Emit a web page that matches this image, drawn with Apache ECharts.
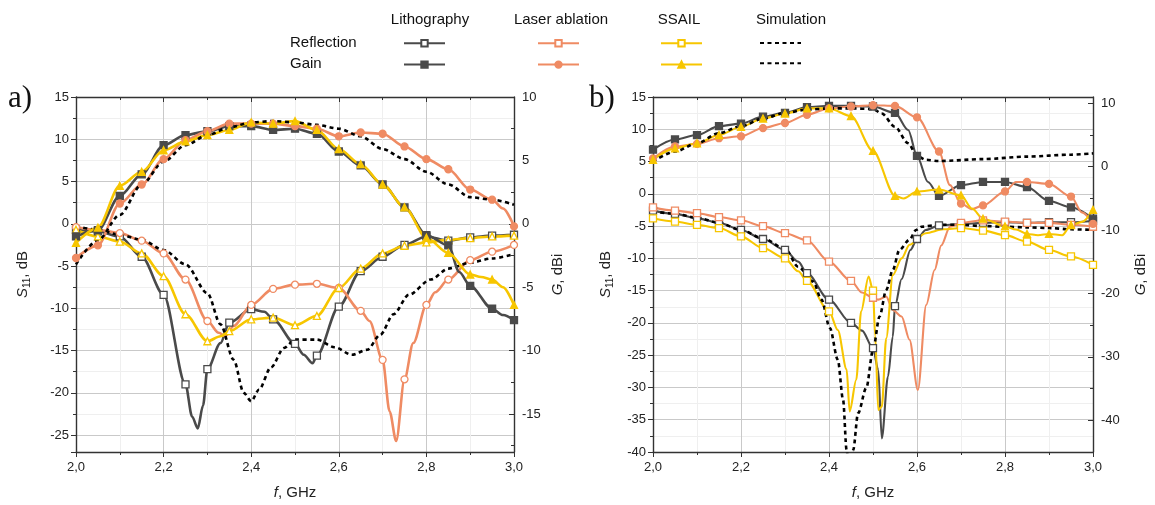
<!DOCTYPE html>
<html><head><meta charset="utf-8">
<script src="https://cdn.jsdelivr.net/npm/echarts@6/dist/echarts.min.js"></script>
<style>html,body{margin:0;padding:0;background:#fff}#c{width:1155px;height:505px}</style>
</head><body><div id="c"></div><script>
// ---------- DATA ----------
const columnHeaders = ['Lithography', 'Laser ablation', 'SSAIL', 'Simulation'];
const rowLabels = ['Reflection', 'Gain'];
const panelLabels = ['a)', 'b)'];

// Panel a) — reflection S11 (dB, left axis)
const aLithoRefl = [[2.0,-0.7],[2.05,-0.9],[2.1,-1.5],[2.15,-3.9],[2.2,-8.4],[2.25,-19.0],[2.265,-22.8],[2.278,-24.2],[2.29,-21.5],[2.3,-17.2],[2.33,-14.1],[2.35,-11.7],[2.4,-10.1],[2.43,-10.4],[2.45,-11.3],[2.5,-14.2],[2.52,-15.5],[2.54,-16.5],[2.55,-15.6],[2.6,-9.8],[2.65,-5.6],[2.7,-3.9],[2.75,-2.5],[2.8,-1.5],[2.85,-2.0],[2.9,-1.6],[2.95,-1.4],[3.0,-1.3]];
const aLaserRefl = [[2.0,-0.4],[2.05,-0.7],[2.1,-1.1],[2.15,-2.0],[2.2,-3.5],[2.25,-6.6],[2.3,-11.5],[2.326,-12.9],[2.341,-13.3],[2.36,-12.1],[2.4,-9.6],[2.45,-7.7],[2.5,-7.2],[2.55,-7.1],[2.6,-7.6],[2.65,-10.3],[2.67,-11.5],[2.7,-16.1],[2.716,-22.2],[2.731,-25.7],[2.75,-18.4],[2.77,-14.1],[2.8,-9.6],[2.82,-8.1],[2.85,-6.6],[2.9,-4.3],[2.95,-3.3],[3.0,-2.5]];
const aSsailRefl = [[2.0,-0.7],[2.05,-1.5],[2.1,-2.1],[2.15,-3.5],[2.2,-6.2],[2.25,-10.7],[2.3,-13.9],[2.33,-13.3],[2.35,-12.7],[2.4,-11.3],[2.45,-11.1],[2.5,-12.0],[2.55,-10.9],[2.6,-7.6],[2.65,-5.3],[2.7,-3.5],[2.75,-2.6],[2.8,-2.2],[2.85,-1.9],[2.9,-1.7],[2.95,-1.5],[3.0,-1.4]];
const aSimRefl = [[2.0,-0.3],[2.05,-0.7],[2.1,-1.3],[2.15,-1.9],[2.2,-3.1],[2.25,-4.8],[2.3,-8.2],[2.33,-11.9],[2.36,-16.1],[2.383,-20.0],[2.4,-21.0],[2.418,-19.6],[2.445,-17.0],[2.475,-14.7],[2.5,-13.7],[2.55,-13.7],[2.59,-14.6],[2.63,-15.5],[2.665,-14.9],[2.695,-13.1],[2.725,-10.7],[2.76,-8.4],[2.81,-6.6],[2.85,-5.3],[2.9,-4.6],[2.95,-4.1],[3.0,-3.6]];
// Panel a) — gain G (dBi, right axis)
const aLithoGain = [[2.0,-1.0],[2.05,-0.5],[2.1,2.2],[2.15,3.9],[2.2,6.2],[2.25,7.0],[2.3,7.3],[2.35,7.7],[2.4,7.7],[2.45,7.4],[2.5,7.5],[2.55,7.1],[2.6,5.7],[2.65,4.6],[2.7,3.1],[2.75,1.3],[2.8,-0.9],[2.85,-1.7],[2.875,-3.8],[2.9,-4.9],[2.95,-6.7],[2.975,-7.2],[3.0,-7.6]];
const aLaserGain = [[2.0,-2.7],[2.05,-1.7],[2.1,1.6],[2.15,3.1],[2.2,5.1],[2.25,6.6],[2.3,7.3],[2.35,7.9],[2.4,7.9],[2.45,7.9],[2.5,7.7],[2.55,7.5],[2.6,6.9],[2.65,7.2],[2.7,7.1],[2.75,6.1],[2.8,5.1],[2.85,4.3],[2.9,2.7],[2.95,1.9],[2.975,1.2],[3.0,-0.2]];
const aSsailGain = [[2.0,-1.5],[2.05,-0.3],[2.1,3.0],[2.15,4.1],[2.2,5.8],[2.25,6.5],[2.3,7.0],[2.35,7.4],[2.4,8.0],[2.45,7.9],[2.5,8.1],[2.55,7.4],[2.6,5.9],[2.65,4.7],[2.7,3.1],[2.75,1.3],[2.8,-1.1],[2.85,-2.3],[2.9,-4.0],[2.925,-4.2],[2.95,-4.4],[2.975,-5.0],[3.0,-6.4]];
const aSimGain = [[2.0,-3.2],[2.05,-1.3],[2.1,0.7],[2.15,3.1],[2.2,4.9],[2.25,6.2],[2.3,7.0],[2.35,7.6],[2.4,8.0],[2.45,8.1],[2.5,8.0],[2.55,7.8],[2.6,7.5],[2.65,6.9],[2.7,5.9],[2.75,5.1],[2.8,4.1],[2.85,3.1],[2.9,2.1],[2.95,1.9],[3.0,1.5]];

// Panel b) — reflection S11 (dB, left axis)
const bLithoRefl = [[2.0,-2.6],[2.05,-3.1],[2.1,-3.8],[2.15,-4.5],[2.2,-5.6],[2.25,-7.0],[2.3,-8.7],[2.33,-10.5],[2.35,-12.3],[2.4,-16.4],[2.45,-20.0],[2.475,-21.2],[2.5,-23.9],[2.512,-27.3],[2.52,-37.9],[2.534,-28.3],[2.545,-22.1],[2.55,-17.4],[2.565,-13.2],[2.585,-8.7],[2.6,-7.0],[2.62,-5.6],[2.65,-4.9],[2.7,-4.7],[2.75,-4.5],[2.8,-4.4],[2.85,-4.5],[2.9,-4.4],[2.95,-4.4],[3.0,-4.2]];
const bLaserRefl = [[2.0,-2.1],[2.05,-2.6],[2.1,-3.0],[2.15,-3.6],[2.2,-4.1],[2.25,-5.0],[2.3,-6.1],[2.35,-7.2],[2.4,-10.5],[2.45,-13.5],[2.475,-15.3],[2.5,-16.1],[2.512,-16.4],[2.53,-15.9],[2.545,-18.0],[2.565,-19.0],[2.583,-22.6],[2.602,-30.4],[2.621,-17.2],[2.64,-11.8],[2.655,-8.0],[2.675,-5.1],[2.7,-4.5],[2.75,-4.1],[2.8,-4.3],[2.85,-4.5],[2.9,-4.5],[2.95,-4.8],[3.0,-5.1]];
const bSsailRefl = [[2.0,-3.8],[2.05,-4.3],[2.1,-4.8],[2.15,-5.3],[2.2,-6.6],[2.25,-8.4],[2.3,-10.0],[2.33,-12.0],[2.35,-13.5],[2.4,-18.2],[2.42,-21.1],[2.44,-27.2],[2.447,-33.7],[2.462,-28.8],[2.473,-18.2],[2.49,-12.8],[2.5,-15.0],[2.505,-22.0],[2.512,-33.5],[2.52,-33.0],[2.53,-22.4],[2.545,-12.6],[2.565,-10.0],[2.583,-7.9],[2.62,-6.1],[2.66,-5.5],[2.7,-5.3],[2.75,-5.7],[2.8,-6.4],[2.85,-7.4],[2.9,-8.7],[2.95,-9.7],[3.0,-11.0]];
const bSimRefl = [[2.0,-2.7],[2.05,-3.1],[2.1,-3.7],[2.15,-4.5],[2.2,-5.6],[2.25,-6.9],[2.3,-8.5],[2.33,-11.3],[2.364,-13.6],[2.383,-16.4],[2.402,-20.8],[2.42,-25.7],[2.432,-31.9],[2.44,-39.7],[2.447,-44.0],[2.455,-39.7],[2.466,-34.0],[2.485,-30.0],[2.5,-24.2],[2.515,-19.0],[2.53,-14.9],[2.545,-11.8],[2.56,-8.7],[2.583,-7.1],[2.598,-5.6],[2.61,-5.1],[2.65,-4.8],[2.7,-4.8],[2.75,-5.0],[2.8,-5.1],[2.85,-5.2],[2.9,-5.3],[2.95,-5.5],[3.0,-5.6]];
// Panel b) — gain G (dBi, right axis)
const bLithoGain = [[2.0,2.7],[2.05,4.3],[2.1,5.0],[2.15,6.4],[2.2,6.8],[2.25,7.9],[2.3,8.5],[2.35,9.4],[2.4,9.6],[2.45,9.6],[2.5,9.5],[2.55,8.5],[2.58,5.8],[2.6,1.7],[2.625,-2.4],[2.65,-4.6],[2.7,-2.9],[2.75,-2.4],[2.8,-2.4],[2.85,-3.2],[2.9,-5.4],[2.95,-6.4],[3.0,-8.2]];
const bLaserGain = [[2.0,1.3],[2.05,3.2],[2.1,3.6],[2.15,4.5],[2.2,4.8],[2.25,6.1],[2.3,6.9],[2.35,8.2],[2.4,9.2],[2.45,9.5],[2.5,9.7],[2.55,9.6],[2.6,7.8],[2.65,2.4],[2.675,-2.9],[2.7,-5.8],[2.725,-6.7],[2.75,-6.1],[2.8,-3.9],[2.825,-2.4],[2.85,-2.4],[2.9,-2.7],[2.95,-4.7],[2.975,-7.2],[3.0,-9.0]];
const bSsailGain = [[2.0,1.1],[2.05,2.9],[2.1,3.7],[2.15,5.0],[2.2,6.3],[2.25,7.6],[2.3,8.4],[2.35,9.2],[2.4,9.2],[2.45,8.0],[2.5,2.5],[2.55,-4.6],[2.57,-5.0],[2.6,-3.9],[2.65,-3.6],[2.7,-4.5],[2.725,-6.6],[2.75,-8.2],[2.8,-9.4],[2.825,-9.9],[2.85,-10.6],[2.875,-10.8],[2.9,-10.6],[2.93,-10.8],[2.95,-9.2],[2.975,-8.7],[3.0,-6.8]];
const bSimGain = [[2.0,0.8],[2.05,2.4],[2.1,3.7],[2.15,5.3],[2.2,6.4],[2.25,7.6],[2.3,8.5],[2.35,9.0],[2.4,9.2],[2.45,9.2],[2.5,9.1],[2.52,8.4],[2.55,6.3],[2.58,3.7],[2.6,1.7],[2.62,1.1],[2.65,0.9],[2.75,1.2],[2.85,1.6],[2.95,1.9],[3.0,2.1]];

// ---------- STYLE / LAYOUT ----------
const FONT = '"Liberation Sans", Arial, sans-serif';
const COL = {litho:'#4a4a4a', laser:'#ef8b63', ssail:'#f7c600', sim:'#000000'};
const NAMES = {
  lithoR:'Lithography reflection', laserR:'Laser ablation reflection', ssailR:'SSAIL reflection', simR:'Simulation reflection',
  lithoG:'Lithography gain', laserG:'Laser ablation gain', ssailG:'SSAIL gain', simG:'Simulation gain'
};
function isMark(f){ const k=f*20; return Math.abs(k-Math.round(k))<0.02; }
function line(name, data, xi, yi, color, symbol, hollow, width){
  return {
    name, type:'line', data, xAxisIndex:xi, yAxisIndex:yi,
    smooth:0.3, smoothMonotone:'x', showAllSymbol:true, clip:true,
    symbol: symbol || 'none',
    symbolSize: (v)=> isMark(v[0]) ? 7 : 0,
    lineStyle:{color, width: width},
    itemStyle:{color: hollow ? '#ffffff' : color, borderColor: color, borderWidth: 1.3},
    emphasis:{disabled:true}, animation:false
  };
}
function sim(name, data, xi, yi, width){
  return {
    name, type:'line', data, xAxisIndex:xi, yAxisIndex:yi,
    smooth:0.3, smoothMonotone:'x', symbol:'none', clip:true,
    lineStyle:{color:'#000', width: width, type:[4,3.5]},
    itemStyle:{color:'#000', opacity:0}, emphasis:{disabled:true}, animation:false
  };
}
const fmtX = v => v.toFixed(1).replace('.', ',');
const axisLineStyle = {color:'#333', width:1.4};
function xAxes(gi){
  return [
    {type:'value', gridIndex:gi, position:'bottom', min:2, max:3, interval:0.2,
     name:'{i|f}, GHz', nameLocation:'middle', nameGap:33,
     nameTextStyle:{fontFamily:FONT, fontSize:15, color:'#222', rich:{i:{fontStyle:'italic', fontFamily:FONT, fontSize:15}}},
     axisLine:{show:true, onZero:false, lineStyle:axisLineStyle},
     axisTick:{show:true, inside:false, length:5, lineStyle:{color:'#333'}},
     minorTick:{show:true, splitNumber:2, length:3, lineStyle:{color:'#333'}},
     axisLabel:{formatter:fmtX, fontFamily:FONT, fontSize:13, color:'#222', margin:9},
     splitLine:{show:true, lineStyle:{color:'#c9c9c9', width:1}},
     minorSplitLine:{show:true, lineStyle:{color:'#efefef', width:1}}},
    {type:'value', gridIndex:gi, position:'top', min:2, max:3, interval:0.2,
     axisLine:{show:true, onZero:false, lineStyle:axisLineStyle},
     axisTick:{show:true, inside:true, length:5, lineStyle:{color:'#333'}},
     minorTick:{show:true, splitNumber:2, length:3, lineStyle:{color:'#333'}},
     axisLabel:{show:false}, splitLine:{show:false}}
  ];
}
const sNameRich = {
  i:{fontStyle:'italic', fontFamily:FONT, fontSize:15, color:'#222'},
  sub:{fontFamily:FONT, fontSize:10, color:'#222', padding:[9,0,0,0]},
  n:{fontFamily:FONT, fontSize:15, color:'#222'}
};
function leftY(gi, min, max, split, gap){
  return {type:'value', gridIndex:gi, position:'left', min, max, splitNumber:split,
    name:'{i|S}{sub|11}{n|, dB}', nameLocation:'middle', nameRotate:90, nameGap:gap,
    nameTextStyle:{rich:sNameRich},
    axisLine:{show:true, onZero:false, lineStyle:axisLineStyle},
    axisTick:{show:true, inside:false, length:5, lineStyle:{color:'#333'}},
    minorTick:{show:true, splitNumber:2, length:3, lineStyle:{color:'#333'}},
    axisLabel:{fontFamily:FONT, fontSize:13, color:'#222', margin:7,
      formatter: v => (Math.abs(v % 5) < 1e-6 ? String(v) : '')},
    splitLine:{show:true, lineStyle:{color:'#c9c9c9', width:1}},
    minorSplitLine:{show:true, lineStyle:{color:'#efefef', width:1}}};
}
function rightY(gi, min, max, split, step, gap){
  return {type:'value', gridIndex:gi, position:'right', min, max, splitNumber:split,
    name:'{i|G}{n|, dBi}', nameLocation:'middle', nameRotate:90, nameGap:gap,
    nameTextStyle:{rich:sNameRich},
    axisLine:{show:true, onZero:false, lineStyle:axisLineStyle},
    axisTick:{show:true, inside:true, length:5, lineStyle:{color:'#333'}},
    minorTick:{show:true, splitNumber:2, length:3, lineStyle:{color:'#333'}},
    axisLabel:{fontFamily:FONT, fontSize:13, color:'#222', margin:8,
      formatter: v => (Math.abs(v % step) < 1e-6 ? String(v) : '')},
    splitLine:{show:false}, minorSplitLine:{show:false}};
}

const W = {a:2.6, b:2.1};
const series = [
  // panel b first so that legend icons come from panel b
  line(NAMES.lithoR, bLithoRefl, 2, 2, COL.litho, 'rect', true, W.b),
  line(NAMES.laserR, bLaserRefl, 2, 2, COL.laser, 'rect', true, W.b),
  line(NAMES.ssailR, bSsailRefl, 2, 2, COL.ssail, 'rect', true, W.b),
  sim(NAMES.simR, bSimRefl, 2, 2, 2.6),
  line(NAMES.lithoG, bLithoGain, 2, 3, COL.litho, 'rect', false, W.b),
  line(NAMES.laserG, bLaserGain, 2, 3, COL.laser, 'circle', false, W.b),
  line(NAMES.ssailG, bSsailGain, 2, 3, COL.ssail, 'triangle', false, W.b),
  sim(NAMES.simG, bSimGain, 2, 3, 2.6),
  // panel a
  line(NAMES.lithoR, aLithoRefl, 0, 0, COL.litho, 'rect', true, W.a),
  line(NAMES.laserR, aLaserRefl, 0, 0, COL.laser, 'circle', true, W.a),
  line(NAMES.ssailR, aSsailRefl, 0, 0, COL.ssail, 'triangle', true, W.a),
  sim(NAMES.simR, aSimRefl, 0, 0, 2.6),
  line(NAMES.lithoG, aLithoGain, 0, 1, COL.litho, 'rect', false, W.a),
  line(NAMES.laserG, aLaserGain, 0, 1, COL.laser, 'circle', false, W.a),
  line(NAMES.ssailG, aSsailGain, 0, 1, COL.ssail, 'triangle', false, W.a),
  sim(NAMES.simG, aSimGain, 0, 1, 2.6)
];

const legendCols = [
  {left:403, names:[NAMES.lithoR, NAMES.lithoG]},
  {left:537, names:[NAMES.laserR, NAMES.laserG]},
  {left:660, names:[NAMES.ssailR, NAMES.ssailG]},
  {left:759, names:[NAMES.simR, NAMES.simG]}
];
const legends = legendCols.map(c => ({
  show:true, orient:'vertical', left:c.left, top:39, itemWidth:41, itemHeight:8, itemGap:13,
  data:c.names, formatter:()=>'', selectedMode:false, padding:0,
  textStyle:{fontSize:1}
}));

const headerX = [430, 561, 679, 791];
const graphics = [];
columnHeaders.forEach((t,i)=> graphics.push({type:'text', x: headerX[i], y: 12,
  style:{text:t, fontFamily:FONT, fontSize:15, fill:'#111', align:'center'}}));
rowLabels.forEach((t,i)=> graphics.push({type:'text', x: 290, y: 35 + i*21,
  style:{text:t, fontFamily:FONT, fontSize:15, fill:'#111', align:'left'}}));
graphics.push({type:'text', x:8, y:83, style:{text:panelLabels[0], fontFamily:'"Liberation Serif","Times New Roman",serif', fontSize:31, fill:'#111'}});
graphics.push({type:'text', x:589, y:83, style:{text:panelLabels[1], fontFamily:'"Liberation Serif","Times New Roman",serif', fontSize:31, fill:'#111'}});

const option = {
  backgroundColor:'#fff',
  animation:false,
  grid:[
    {left:76, top:97, width:438, height:355, containLabel:false},
    {left:653, top:97, width:440, height:355, containLabel:false}
  ],
  xAxis:[...xAxes(0), ...xAxes(1)],
  yAxis:[
    leftY(0, -27, 15, 8, 44),
    rightY(0, -18, 10, 6, 5, 36),
    leftY(1, -40, 15, 11, 38),
    rightY(1, -45, 11, 6, 10, 40)
  ],
  legend: legends,
  graphic: graphics,
  series
};
const chart = echarts.init(document.getElementById('c'), null, {renderer:'canvas'});
chart.setOption(option);
</script></body></html>
